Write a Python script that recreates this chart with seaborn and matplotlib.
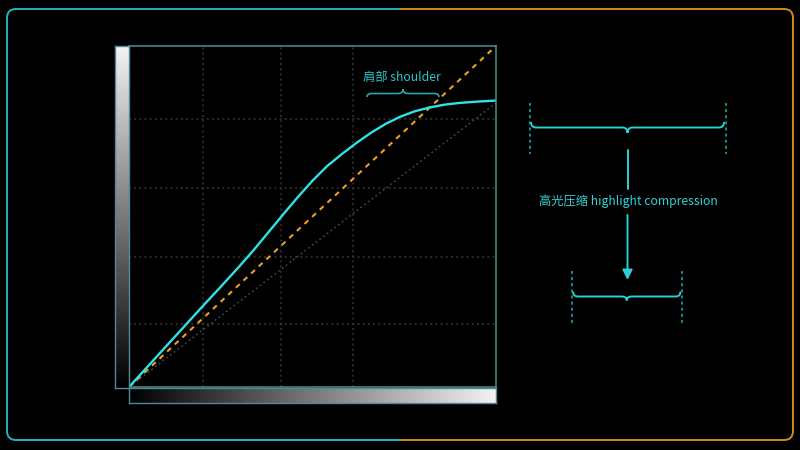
import numpy as np
import pandas as pd
import matplotlib
matplotlib.use("Agg")
import matplotlib.pyplot as plt
import seaborn as sns
from matplotlib.patches import FancyBboxPatch, Rectangle
from matplotlib.path import Path
from matplotlib.patches import PathPatch

# ---------------- data ----------------
curve_x = [0.0, 0.05, 0.10, 0.15, 0.20, 0.25, 0.30, 0.34, 0.38, 0.42, 0.46, 0.50,
           0.54, 0.58, 0.62, 0.66, 0.70, 0.74, 0.78, 0.82, 0.86, 0.90, 0.95, 1.0]
curve_y = [0.0, 0.059, 0.118, 0.177, 0.236, 0.294, 0.353, 0.402, 0.454, 0.506, 0.557, 0.605,
           0.648, 0.683, 0.716, 0.746, 0.772, 0.793, 0.809, 0.820, 0.828, 0.833, 0.837, 0.840]
diag_x = [0.0, 1.0]
diag_y = [0.0, 1.0]
ref_x = [0.0, 1.0]
ref_y = [0.0, 0.833]
grid_x = [0.2016, 0.4155, 0.610]
grid_y = [0.185, 0.381, 0.584, 0.786]
label_shoulder = "肩部 shoulder"
label_compress = "高光压缩 highlight compression"

# ---------------- style ----------------
sns.set_style("dark", rc={"axes.facecolor": "black", "figure.facecolor": "black"})
plt.rcParams['font.family'] = ['Noto Sans CJK SC', 'DejaVu Sans']

CYAN = "#2fe2e6"
TEAL = "#22b4ba"
ORANGE = "#f0a020"
FRAME_OR = "#d08a20"
SPINE = "#4e8c92"

W, H = 800, 450
fig = plt.figure(figsize=(8, 4.5), dpi=100, facecolor="black")

def fa(x0, y0, x1, y1):
    """pixel box (top-left origin) -> figure axes rect"""
    return [x0 / W, 1 - y1 / H, (x1 - x0) / W, (y1 - y0) / H]

# main axes
ax = fig.add_axes(fa(129, 46, 496, 387))
ax.set_facecolor("black")
ax.set_xticks(grid_x)
ax.set_yticks(grid_y)
ax.tick_params(length=0)
ax.grid(True, color="#3a3a3a", linestyle=(0, (1.2, 2.2)), linewidth=1.1)
for s in ax.spines.values():
    s.set_color(SPINE)
    s.set_linewidth(1.1)
    s.set_visible(True)

df_ref = pd.DataFrame({"x": ref_x, "y": ref_y})
df_diag = pd.DataFrame({"x": diag_x, "y": diag_y})
df_curve = pd.DataFrame({"x": curve_x, "y": curve_y})
sns.lineplot(data=df_ref, x="x", y="y", ax=ax, color="#505050", linestyle=(0, (1.2, 2.2)),
             linewidth=1.0, sort=False, estimator=None)
sns.lineplot(data=df_diag, x="x", y="y", ax=ax, color=ORANGE, linestyle=(0, (2.5, 2.5)),
             linewidth=1.5, sort=False, estimator=None)
sns.lineplot(data=df_curve, x="x", y="y", ax=ax, color=CYAN, linewidth=1.7,
             sort=False, estimator=None)
ax.set_xlabel("")
ax.set_ylabel("")
ax.set_xticklabels([])
ax.set_yticklabels([])
ax.set_xlim(0, 1)
ax.set_ylim(0, 1)

# gradient bars
axl = fig.add_axes(fa(115, 46, 129, 388))
axl.imshow(np.linspace(0.95, 0.0, 256)[:, None], cmap="gray", vmin=0, vmax=1, aspect="auto")
axb = fig.add_axes(fa(129, 388, 496, 403))
axb.imshow(np.linspace(0.0, 0.95, 256)[None, :], cmap="gray", vmin=0, vmax=1, aspect="auto")
for a in (axl, axb):
    a.set_xticks([])
    a.set_yticks([])
    a.grid(False)
    for s in a.spines.values():
        s.set_color(SPINE)
        s.set_linewidth(1.0)
        s.set_visible(True)

# overlay in pixel coordinates
ov = fig.add_axes([0, 0, 1, 1], zorder=10)
ov.set_xlim(0, W)
ov.set_ylim(H, 0)
ov.axis("off")
ov.patch.set_alpha(0)

# outer frame, cyan left half, orange right half
for col, cx0 in ((TEAL, 0), (FRAME_OR, 400)):
    fb = FancyBboxPatch((7, 9), 786, 431, boxstyle="round,pad=0,rounding_size=9",
                        fill=False, edgecolor=col, linewidth=1.4)
    ov.add_patch(fb)
    clip = Rectangle((cx0, 0), 400, H, transform=ov.transData)
    fb.set_clip_path(clip)

def brace(x0, x1, y, hook, tip, color, lw=1.4):
    xm = (x0 + x1) / 2
    r = 5
    verts = [(x0, y + hook), (x0, y), (x0 + r, y),
             (xm - r, y), (xm, y), (xm, y + tip),
             (xm, y), (xm + r, y),
             (x1 - r, y), (x1, y), (x1, y + hook)]
    codes = [Path.MOVETO, Path.CURVE3, Path.CURVE3,
             Path.LINETO, Path.CURVE3, Path.CURVE3,
             Path.CURVE3, Path.CURVE3,
             Path.LINETO, Path.CURVE3, Path.CURVE3]
    ov.add_patch(PathPatch(Path(verts, codes), fill=False, edgecolor=color, linewidth=lw))

# shoulder annotation
ov.text(402, 77, label_shoulder, color="#2cc6c9", fontsize=8.8, ha="center", va="center")
brace(367, 439, 93.5, 3.5, -4.5, "#22a8ad", lw=1.2)

# right-side compression diagram
for xv in (529.5, 726):
    ov.plot([xv, xv], [103, 154], color="#1fb0b5", linestyle=(0, (2, 2)), linewidth=1.1)
brace(531, 724, 127.5, -5.5, 5.5, "#2ccfd3")
ov.plot([627.5, 627.5], [150, 189], color="#2ccfd3", linewidth=1.4)
ov.text(628, 201.5, label_compress, color="#2fd3d7", fontsize=8.8, ha="center", va="center")
ov.annotate("", xy=(627.5, 280), xytext=(627.5, 215),
            arrowprops=dict(arrowstyle="-|>,head_length=0.6,head_width=0.3",
                            color="#2ccfd3", lw=1.4, mutation_scale=10, shrinkA=0, shrinkB=0))
for xv in (571.5, 682):
    ov.plot([xv, xv], [271, 323], color="#1fb0b5", linestyle=(0, (2, 2)), linewidth=1.1)
brace(573, 680.5, 296.5, -5, 4, "#2ccfd3")

fig.savefig("out.png", dpi=100, facecolor="black")
